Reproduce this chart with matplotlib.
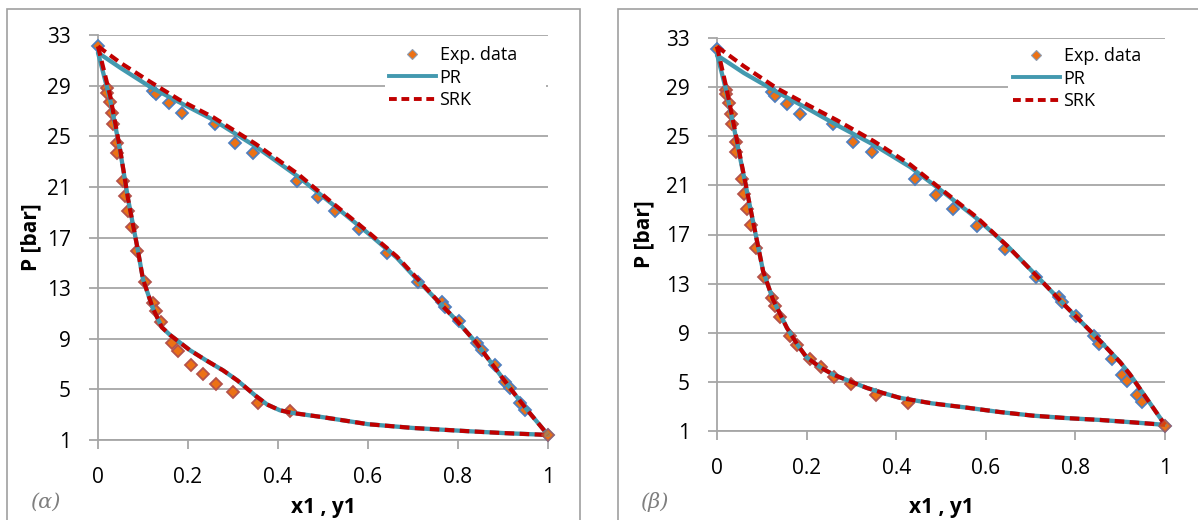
import matplotlib
matplotlib.use("Agg")
import matplotlib.pyplot as plt
from matplotlib.lines import Line2D
from matplotlib.patches import Rectangle

# ---------------- data ----------------
# experimental data (same in both panels)
bubble_x = [0.0, 0.122, 0.129, 0.157, 0.186, 0.26, 0.304, 0.345, 0.443, 0.489, 0.527, 0.58, 0.642,
            0.711, 0.764, 0.771, 0.802, 0.842, 0.853, 0.882, 0.904, 0.916, 0.938, 0.949, 1.0]
bubble_P = [32.1, 28.6, 28.3, 27.6, 26.8, 26.0, 24.5, 23.7, 21.5, 20.2, 19.1, 17.7, 15.8,
            13.5, 11.9, 11.5, 10.4, 8.7, 8.1, 6.9, 5.6, 5.1, 3.9, 3.4, 1.4]
dew_y = [0.02, 0.021, 0.027, 0.031, 0.033, 0.042, 0.043, 0.056, 0.06, 0.067, 0.076, 0.087,
         0.104, 0.122, 0.129, 0.14, 0.164, 0.178, 0.207, 0.233, 0.262, 0.3, 0.356, 0.427]
dew_P = [28.8, 28.4, 27.7, 26.8, 26.0, 24.5, 23.7, 21.5, 20.3, 19.1, 17.8, 15.9,
         13.5, 11.8, 11.2, 10.3, 8.7, 8.0, 6.9, 6.2, 5.4, 4.8, 3.9, 3.3]

# panel (a) model curves
a_pr_bub_x = [0.0, 0.05, 0.116, 0.18, 0.256, 0.35, 0.445, 0.522, 0.598, 0.664, 0.711, 0.76,
              0.798, 0.84, 0.878, 0.92, 0.953, 1.0]
a_pr_bub_P = [31.6, 30.4, 28.9, 27.7, 26.3, 24.2, 21.8, 19.6, 17.4, 15.4, 13.6, 11.8,
              10.4, 8.7, 6.9, 4.9, 3.4, 1.4]
a_srk_bub_x = [0.0, 0.05, 0.116, 0.18, 0.256, 0.35, 0.445, 0.522, 0.598, 0.664, 0.711, 0.76,
               0.798, 0.84, 0.878, 0.92, 0.953, 1.0]
a_srk_bub_P = [32.1, 30.8, 29.3, 27.9, 26.5, 24.4, 22.0, 19.7, 17.5, 15.5, 13.7, 11.8,
               10.4, 8.7, 6.9, 4.9, 3.4, 1.4]
a_pr_dew_x = [0.0, 0.027, 0.049, 0.067, 0.087, 0.1, 0.122, 0.142, 0.16, 0.204, 0.24, 0.278,
              0.31, 0.35, 0.376, 0.404, 0.43, 0.5, 0.6, 0.7, 0.82, 0.9, 1.0]
a_pr_dew_P = [31.6, 27.9, 23.9, 20.0, 16.3, 13.7, 11.4, 9.9, 9.3, 8.1, 7.3, 6.5,
              5.7, 4.5, 3.8, 3.35, 3.15, 2.8, 2.25, 1.95, 1.7, 1.55, 1.4]
a_srk_dew_x = [0.0, 0.027, 0.049, 0.067, 0.087, 0.1, 0.122, 0.142, 0.16, 0.204, 0.24, 0.278,
               0.31, 0.35, 0.376, 0.404, 0.43, 0.5, 0.6, 0.7, 0.82, 0.9, 1.0]
a_srk_dew_P = [32.1, 28.2, 24.0, 20.0, 16.3, 13.7, 11.4, 9.9, 9.3, 8.1, 7.3, 6.5,
               5.7, 4.5, 3.8, 3.35, 3.15, 2.8, 2.25, 1.95, 1.7, 1.55, 1.4]

# panel (b) model curves
b_pr_bub_x = [0.0, 0.06, 0.134, 0.2, 0.268, 0.35, 0.431, 0.5, 0.58, 0.65, 0.717, 0.78,
              0.848, 0.9, 0.922, 0.96, 1.0]
b_pr_bub_P = [31.6, 30.15, 28.6, 27.3, 25.9, 24.3, 22.5, 20.6, 18.3, 16.0, 13.5, 11.1,
              8.6, 6.6, 5.6, 3.6, 1.5]
b_srk_bub_x = [0.0, 0.06, 0.134, 0.2, 0.268, 0.35, 0.431, 0.5, 0.58, 0.65, 0.717, 0.78,
               0.848, 0.9, 0.922, 0.96, 1.0]
b_srk_bub_P = [32.3, 30.7, 28.9, 27.6, 26.3, 24.6, 22.7, 20.7, 18.4, 16.0, 13.5, 11.1,
               8.6, 6.6, 5.6, 3.6, 1.5]
b_pr_dew_x = [0.0, 0.02, 0.04, 0.058, 0.078, 0.103, 0.125, 0.156, 0.18, 0.2, 0.23, 0.259,
              0.3, 0.335, 0.37, 0.408, 0.48, 0.558, 0.63, 0.705, 0.78, 0.855, 0.93, 1.0]
b_pr_dew_P = [31.7, 28.8, 25.3, 22.1, 18.5, 14.0, 11.7, 9.4, 8.0, 7.0, 6.2, 5.6,
              5.0, 4.5, 4.1, 3.7, 3.25, 2.9, 2.55, 2.25, 2.05, 1.9, 1.7, 1.5]
b_srk_dew_x = [0.0, 0.02, 0.04, 0.058, 0.078, 0.103, 0.125, 0.156, 0.18, 0.2, 0.23, 0.259,
               0.3, 0.335, 0.37, 0.408, 0.48, 0.558, 0.63, 0.705, 0.78, 0.855, 0.93, 1.0]
b_srk_dew_P = [32.3, 29.1, 25.5, 22.2, 18.5, 14.0, 11.7, 9.4, 8.0, 7.0, 6.2, 5.6,
               5.0, 4.5, 4.1, 3.7, 3.25, 2.9, 2.55, 2.25, 2.05, 1.9, 1.7, 1.5]

y_ticks = [1, 5, 9, 13, 17, 21, 25, 29, 33]
x_ticks = [0, 0.2, 0.4, 0.6, 0.8, 1]
x_ticklabels = ["0", "0.2", "0.4", "0.6", "0.8", "1"]
legend_labels = ["Exp. data", "PR", "SRK"]
panel_tags = ["(\u03b1)", "(\u03b2)"]

# ---------------- style ----------------
TEAL = "#4399AF"
RED = "#C00000"
ORANGE = "#EC7114"
BLUE_EDGE = "#4F7FBF"
DEW_EDGE = "#B4524B"
GRID = "#A6A6A6"
FONT = "Open Sans"

plt.rcParams["font.family"] = [FONT, "DejaVu Sans"]

W, H = 1198, 520
fig = plt.figure(figsize=(W / 100, H / 100), dpi=100)

# outer frames
fig.patches.append(Rectangle((7 / W, -0.05), 573 / W, 1.05 - 9 / H, transform=fig.transFigure,
                             fill=False, edgecolor="#A0A0A0", linewidth=1.2))
fig.patches.append(Rectangle((618 / W, -0.05), 0.5, 1.05 - 9 / H, transform=fig.transFigure,
                             fill=False, edgecolor="#A0A0A0", linewidth=1.2))

panels = [
    dict(px=(98, 440, 450, 405),
         curves=(a_pr_bub_x, a_pr_bub_P, a_srk_bub_x, a_srk_bub_P,
                 a_pr_dew_x, a_pr_dew_P, a_srk_dew_x, a_srk_dew_P),
         ylab_x=31, xlab_y=508, tag=(45, 502),
         legbox=(385, 546, 45, 121), leg_left=389, leg_top=46),
    dict(px=(717, 431, 448, 393),
         curves=(b_pr_bub_x, b_pr_bub_P, b_srk_bub_x, b_srk_bub_P,
                 b_pr_dew_x, b_pr_dew_P, b_srk_dew_x, b_srk_dew_P),
         ylab_x=644, xlab_y=507, tag=(654, 502),
         legbox=(1008, 1166, 45, 122), leg_left=1013, leg_top=47),
]

for i, p in enumerate(panels):
    x0, yb, aw, ah = p["px"]
    ax = fig.add_axes([x0 / W, 1 - yb / H, aw / W, ah / H])

    def axx(px):
        return (px - x0) / aw

    def axy(py):
        return (yb - py) / ah

    ax.set_xlim(0, 1)
    ax.set_ylim(1, 33)
    ax.set_yticks(y_ticks)
    ax.set_xticks(x_ticks)
    ax.set_xticklabels(x_ticklabels)
    ax.yaxis.grid(True, color=GRID, linewidth=1.3)
    ax.set_axisbelow(True)
    for s in ["top", "right"]:
        ax.spines[s].set_visible(False)
    for s in ["left", "bottom"]:
        ax.spines[s].set_color(GRID)
        ax.spines[s].set_linewidth(1.3)
    ax.tick_params(axis="both", direction="out", length=6.5, width=1.3, color=GRID,
                   labelsize=15, labelcolor="black")
    ax.tick_params(axis="y", pad=13)
    ax.tick_params(axis="x", pad=13)

    (prbx, prbP, srbx, srbP, prdx, prdP, srdx, srdP) = p["curves"]

    ax.plot(bubble_x, bubble_P, linestyle="none", marker="D", markersize=6.2,
            markerfacecolor=ORANGE, markeredgecolor=BLUE_EDGE, markeredgewidth=1.3,
            clip_on=False, zorder=3)
    ax.plot(dew_y, dew_P, linestyle="none", marker="D", markersize=6.2,
            markerfacecolor=ORANGE, markeredgecolor=DEW_EDGE, markeredgewidth=1.3,
            clip_on=False, zorder=3)
    ax.plot(prbx, prbP, color=TEAL, linewidth=3.1, clip_on=False, zorder=4,
            solid_capstyle="round", solid_joinstyle="round")
    ax.plot(prdx, prdP, color=TEAL, linewidth=3.1, clip_on=False, zorder=4,
            solid_capstyle="round", solid_joinstyle="round")
    ax.plot(srbx, srbP, color=RED, linewidth=3.0, dashes=(2.3, 1.3), clip_on=False, zorder=5)
    ax.plot(srdx, srdP, color=RED, linewidth=3.0, dashes=(2.3, 1.3), clip_on=False, zorder=5)

    ax.plot([bubble_x[-1]], [bubble_P[-1]], linestyle="none", marker="D", markersize=6.2,
            markerfacecolor=ORANGE, markeredgecolor=DEW_EDGE, markeredgewidth=1.3,
            clip_on=False, zorder=6, alpha=0.6)

    # white legend background (covers the gridline like the reference)
    bl, br, bt, bb = p["legbox"]
    ax.add_patch(Rectangle((axx(bl), axy(bb)), axx(br) - axx(bl), axy(bt) - axy(bb),
                           transform=ax.transAxes, facecolor="white", edgecolor="none",
                           zorder=2, clip_on=False))

    handles = [
        Line2D([], [], linestyle="none", marker="D", markersize=5.0, markerfacecolor=ORANGE,
               markeredgecolor="#8C9BB0", markeredgewidth=0.8),
        Line2D([], [], color=TEAL, linewidth=2.8),
        Line2D([], [], color=RED, linewidth=2.8, dashes=(2.0, 1.2)),
    ]
    leg = ax.legend(handles, legend_labels, loc="upper left",
                    bbox_to_anchor=(axx(p["leg_left"]), axy(p["leg_top"])),
                    frameon=False, fontsize=13, handlelength=2.6, handletextpad=0.2,
                    labelspacing=0.25, borderpad=0.0, borderaxespad=0.0)
    leg.set_zorder(10)

    ax.set_ylabel("P [bar]", fontsize=15, fontweight="bold")
    ax.yaxis.set_label_coords(axx(p["ylab_x"]), 0.5)
    ax.yaxis.label.set_va("center")
    ax.set_xlabel("x1 , y1", fontsize=15, fontweight="bold")
    ax.xaxis.set_label_coords(0.5, axy(p["xlab_y"]))
    ax.xaxis.label.set_va("center")

    tx, ty = p["tag"]
    fig.text(tx / W, 1 - ty / H, panel_tags[i], fontsize=15, style="italic", color="#7F7F7F",
             family=["DejaVu Serif"], ha="center", va="center")

fig.savefig("out.png", dpi=100)
